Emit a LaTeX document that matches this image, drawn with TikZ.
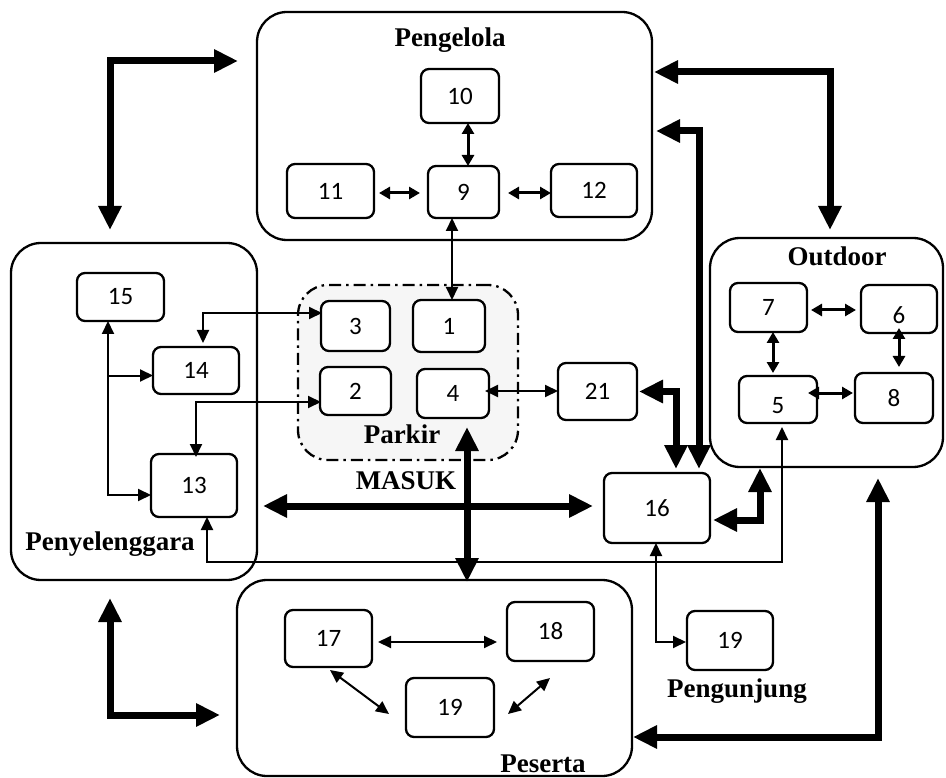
\documentclass[tikz,border=0pt]{standalone}
\usepackage{fontspec}
\setmainfont{Liberation Serif}
\newfontfamily\numfont{Carlito}
\usetikzlibrary{arrows.meta,calc}
\tikzset{
  big/.style={draw,line width=2.3pt,rounded corners=30pt,inner sep=0pt,outer sep=0pt},
  sbox/.style={draw,line width=2.3pt,rounded corners=8pt,fill=white,inner sep=0pt,outer sep=0pt,font=\numfont\fontsize{25}{27}\selectfont},
  lab/.style={font=\bfseries\fontsize{27}{30}\selectfont,inner sep=0pt,anchor=base},
  fat/.style={line width=7pt,{Triangle[length=24pt,width=22pt]}-{Triangle[length=24pt,width=22pt]}},
  thin/.style={line width=2pt,{Triangle[length=13pt,width=12pt]}-{Triangle[length=13pt,width=12pt]}},
  thinone/.style={line width=2pt,-{Triangle[length=13pt,width=12pt]}},
  mid/.style={line width=3pt,{Triangle[length=11pt,width=12pt]}-{Triangle[length=11pt,width=12pt]}}
}
\begin{document}
\begin{tikzpicture}[x=1pt,y=-1pt]
\useasboundingbox (0,0) rectangle (946,778);
% big groups
\node[big,minimum width=395pt,minimum height=228pt] (peng) at (454.5,126) {};
\node[big,minimum width=246pt,minimum height=337pt] (penyel) at (134,411.5) {};
\node[big,minimum width=233pt,minimum height=229pt] (outd) at (826.5,352.5) {};
\node[big,minimum width=395pt,minimum height=196pt] (pes) at (434.5,678) {};
\node[draw,line width=2.3pt,dash pattern=on 12pt off 5pt on 2.5pt off 5pt,rounded corners=30pt,fill=gray!7,minimum width=220pt,minimum height=175pt,inner sep=0pt] (parkir) at (408,372.5) {};
% labels
\node[lab] (lpeng) at (450,47) {Pengelola};
\node[lab] (lpenyel) at (110,550) {Penyelenggara};
\node[lab] (loutd) at (837,266) {Outdoor};
\node[lab] (lparkir) at (402,443) {Parkir};
\node[lab] (lmasuk) at (406,489) {MASUK};
\node[lab] (lpengu) at (737,697) {Pengunjung};
\node[lab] (lpes) at (543,772) {Peserta};
% small boxes
\node[sbox,minimum width=78pt,minimum height=54pt] (b10) at (460,96) {10};
\node[sbox,minimum width=87pt,minimum height=54pt] (b11) at (330.5,191) {11};
\node[sbox,minimum width=71pt,minimum height=52pt] (b9) at (463.5,192) {9};
\node[sbox,minimum width=86pt,minimum height=53pt] (b12) at (594,190.5) {12};
\node[sbox,minimum width=69pt,minimum height=50pt] (b3) at (355.5,326) {3};
\node[sbox,minimum width=72pt,minimum height=52pt] (b1) at (449,326) {1};
\node[sbox,minimum width=71pt,minimum height=48pt] (b2) at (355.5,391) {2};
\node[sbox,minimum width=72pt,minimum height=49pt] (b4) at (453,393.5) {4};
\node[sbox,minimum width=79pt,minimum height=57pt] (b21) at (597.5,391.5) {21};
\node[sbox,minimum width=87pt,minimum height=48pt] (b15) at (120.5,297) {15};
\node[sbox,minimum width=86pt,minimum height=47pt] (b14) at (196,370.5) {14};
\node[sbox,minimum width=86pt,minimum height=63pt] (b13) at (194,485.5) {13};
\node[sbox,minimum width=106pt,minimum height=70pt] (b16) at (657,508) {16};
\node[sbox,minimum width=77pt,minimum height=49pt] (b7) at (768.5,307.5) {7};
\node[sbox,minimum width=76pt,minimum height=48pt] (b6) at (899,309) {\raisebox{-6pt}[\height][\depth]{6}};
\node[sbox,minimum width=78pt,minimum height=47pt] (b5) at (778,399.5) {\raisebox{-6pt}[\height][\depth]{5}};
\node[sbox,minimum width=78pt,minimum height=50pt] (b8) at (894,398) {8};
\node[sbox,minimum width=87pt,minimum height=57pt] (b17) at (328.5,638.5) {17};
\node[sbox,minimum width=87pt,minimum height=59pt] (b18) at (550.5,631.5) {18};
\node[sbox,minimum width=88pt,minimum height=59pt] (b19p) at (450,707.5) {19};
\node[sbox,minimum width=86pt,minimum height=59pt] (b19v) at (730,640.5) {19};
% free ends of the thick connectors
\coordinate (t1a) at (238,61);
\coordinate (t1b) at (110,230);
\coordinate (t2a) at (654,72);
\coordinate (t2b) at (830,230);
\coordinate (t3a) at (656,131);
\coordinate (t3b) at (699,469);
\coordinate (t4b) at (676,469);
\coordinate (t5a) at (263,506);
\coordinate (t5b) at (593,506);
\coordinate (t6a) at (467,427);
\coordinate (t6b) at (467,582);
\coordinate (t7b) at (760,468);
\coordinate (t8a) at (878,478);
\coordinate (t8b) at (633,737);
\coordinate (t9a) at (110,598);
\coordinate (t9b) at (220,715);
% thick connectors
\draw[fat] (t1a) -| (t1b);
\draw[fat] (t2a) -| (t2b);
\draw[fat] (t3a) -| (t3b);
\draw[fat] ([xshift=2pt]b21.east) -| (t4b);
\draw[fat] (t5a) -- (t5b);
\draw[fat] (t6a) -- (t6b);
\draw[fat] ([xshift=3pt,yshift=-12pt]b16.east) -| (t7b);
\draw[fat] (t8a) |- (t8b);
\draw[fat] (t9a) |- (t9b);
% Pengelola
\draw[mid] ([xshift=4.5pt]b9.north |- b10.south) -- ([xshift=4.5pt]b9.north);
\draw[mid,shorten <=5pt,shorten >=8pt] ([yshift=-2pt]b11.east) -- ([yshift=-2pt]b11.east -| b9.west);
\draw[mid,shorten <=9pt] ([yshift=-2pt]b11.east -| b9.east) -- ([yshift=-2pt]b11.east -| b12.west);
\draw[thin] ([xshift=3pt]b1.north |- b9.south) -- ([xshift=3pt]b1.north);
% Penyelenggara
\draw[thin] ([yshift=13pt,xshift=1pt]b3.west) -| ([xshift=7pt,yshift=4pt]b14.north);
\draw[thin] ([xshift=-12.5pt]b15.south) |- ([yshift=-9.5pt]b13.west);
\draw[thinone] ([xshift=-12.5pt,yshift=-5pt]b15.south |- b14.west) -- ([yshift=-5pt]b14.west);
\draw[thin] ([yshift=-11pt,xshift=1pt]b2.west) -| ([xshift=2pt,yshift=-3pt]b13.north);
% parkir and 21
\draw[thin] ([xshift=-4pt,yshift=2.5pt]b4.east) -- ([yshift=0.5pt]b21.west);
% 13 to 5
\draw[thin] ([xshift=13pt]b13.south) -- ++(0,45) -| ([xshift=4pt,yshift=-4pt]b5.south);
% 16 to 19 Pengunjung
\draw[thin] ([xshift=-1pt]b16.south) |- ([yshift=-1.5pt,xshift=-1pt]b19v.west);
% Outdoor
\draw[mid,shorten <=4pt,shorten >=5pt] ([yshift=-2.5pt]b7.east) -- ([yshift=-2.5pt]b7.east -| b6.west);
\draw[mid] ([xshift=4.5pt]b7.south) -- ([xshift=4.5pt,yshift=3pt]b7.south |- b5.north);
\draw[mid] ([yshift=5pt]b6.south) -- ([yshift=6pt]b6.south |- b8.north);
\draw[mid] ([xshift=-9pt,yshift=6.5pt]b5.east) -- ([yshift=6.5pt,xshift=-2pt]b5.east -| b8.west);
% Peserta
\draw[thin,shorten <=6pt,shorten >=10pt] ([yshift=-3.5pt]b17.east) -- ([yshift=-3.5pt]b17.east -| b18.west);
\draw[thin] ($(b17.south)+(1.5,3)$) -- ($(b19p.west)+(-17,6.5)$);
\draw[thin] ($(b19p.east)+(14,6.5)$) -- ($(b18.south)+(-0.5,17)$);
\end{tikzpicture}
\end{document}
